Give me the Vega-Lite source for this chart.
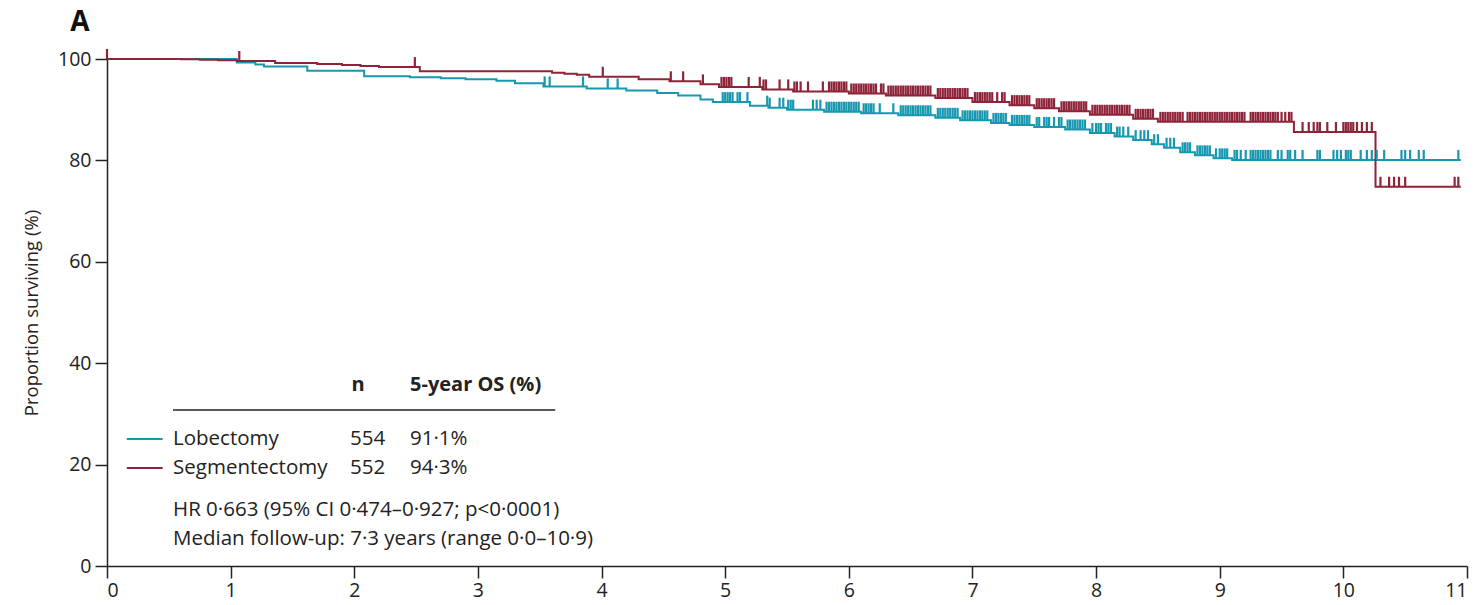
{
 "$schema": "https://vega.github.io/schema/vega-lite/v6.json",
 "width": 1360, "height": 507,
 "autosize": {"type": "none"},
 "padding": {"left": 107, "top": 59, "right": 17, "bottom": 39},
 "background": "white",
 "config": {
  "view": {"stroke": null},
  "axis": {"domainColor": "#222", "tickColor": "#222", "domainWidth": 1.5, "tickWidth": 1.5, "tickSize": 12, "labelFont": "Open Sans", "labelFontSize": 19.5, "labelColor": "#222", "grid": false, "titleFont": "Open Sans", "titleFontSize": 18.5, "titleFontWeight": "normal", "titleColor": "#222"}
 },
 "data": {"values": [
  {"g":"L","t":0,"s":100,"c":0},{"g":"L","t":1.05,"s":99.3,"c":0},{"g":"L","t":1.2,"s":98.9,"c":0},{"g":"L","t":1.27,"s":98.5,"c":0},{"g":"L","t":1.62,"s":97.7,"c":0},{"g":"L","t":2.08,"s":96.6,"c":0},{"g":"L","t":2.45,"s":96.4,"c":0},{"g":"L","t":2.7,"s":96.2,"c":0},{"g":"L","t":2.9,"s":96.0,"c":0},{"g":"L","t":3.15,"s":95.7,"c":0},{"g":"L","t":3.3,"s":95.2,"c":0},{"g":"L","t":3.53,"s":94.6,"c":0},{"g":"L","t":3.88,"s":94.2,"c":0},{"g":"L","t":4.2,"s":93.8,"c":0},{"g":"L","t":4.45,"s":93.3,"c":0},{"g":"L","t":4.62,"s":92.8,"c":0},{"g":"L","t":4.8,"s":92.0,"c":0},{"g":"L","t":4.9,"s":91.5,"c":0},{"g":"L","t":5.2,"s":90.8,"c":0},{"g":"L","t":5.35,"s":90.4,"c":0},{"g":"L","t":5.5,"s":90.0,"c":0},{"g":"L","t":5.8,"s":89.6,"c":0},{"g":"L","t":6.1,"s":89.3,"c":0},{"g":"L","t":6.4,"s":88.9,"c":0},{"g":"L","t":6.7,"s":88.4,"c":0},{"g":"L","t":6.9,"s":87.9,"c":0},{"g":"L","t":7.15,"s":87.4,"c":0},{"g":"L","t":7.3,"s":87.0,"c":0},{"g":"L","t":7.5,"s":86.6,"c":0},{"g":"L","t":7.75,"s":86.1,"c":0},{"g":"L","t":7.95,"s":85.4,"c":0},{"g":"L","t":8.15,"s":84.7,"c":0},{"g":"L","t":8.3,"s":84.0,"c":0},{"g":"L","t":8.45,"s":83.2,"c":0},{"g":"L","t":8.55,"s":82.5,"c":0},{"g":"L","t":8.68,"s":81.6,"c":0},{"g":"L","t":8.8,"s":81.0,"c":0},{"g":"L","t":8.95,"s":80.4,"c":0},{"g":"L","t":9.1,"s":80.1,"c":0},{"g":"L","t":10.95,"s":80.1,"c":0},
  {"g":"L","t":3.54,"s":94.6,"c":1},{"g":"L","t":3.58,"s":94.6,"c":1},{"g":"L","t":3.85,"s":94.6,"c":1},{"g":"L","t":4.05,"s":94.2,"c":1},{"g":"L","t":4.13,"s":94.2,"c":1},
  {"g":"L","t":4.98,"s":91.5,"c":1},{"g":"L","t":5.0,"s":91.5,"c":1},{"g":"L","t":5.02,"s":91.5,"c":1},{"g":"L","t":5.04,"s":91.5,"c":1},{"g":"L","t":5.06,"s":91.5,"c":1},{"g":"L","t":5.1,"s":91.5,"c":1},{"g":"L","t":5.12,"s":91.5,"c":1},{"g":"L","t":5.18,"s":91.5,"c":1},
  {"g":"L","t":5.34,"s":90.8,"c":1},{"g":"L","t":5.36,"s":90.4,"c":1},{"g":"L","t":5.44,"s":90.4,"c":1},{"g":"L","t":5.47,"s":90.4,"c":1},
  {"g":"L","t":5.51,"s":90.0,"c":1},{"g":"L","t":5.53,"s":90.0,"c":1},{"g":"L","t":5.55,"s":90.0,"c":1},{"g":"L","t":5.71,"s":90.0,"c":1},{"g":"L","t":5.74,"s":90.0,"c":1},{"g":"L","t":5.77,"s":90.0,"c":1},
  {"g":"L","t":5.82,"s":89.6,"c":1},{"g":"L","t":5.84,"s":89.6,"c":1},{"g":"L","t":5.86,"s":89.6,"c":1},{"g":"L","t":5.88,"s":89.6,"c":1},{"g":"L","t":5.9,"s":89.6,"c":1},{"g":"L","t":5.92,"s":89.6,"c":1},{"g":"L","t":5.94,"s":89.6,"c":1},{"g":"L","t":5.96,"s":89.6,"c":1},{"g":"L","t":5.98,"s":89.6,"c":1},{"g":"L","t":6.0,"s":89.6,"c":1},{"g":"L","t":6.02,"s":89.6,"c":1},{"g":"L","t":6.04,"s":89.6,"c":1},{"g":"L","t":6.06,"s":89.6,"c":1},{"g":"L","t":6.08,"s":89.6,"c":1},
  {"g":"L","t":6.12,"s":89.3,"c":1},{"g":"L","t":6.14,"s":89.3,"c":1},{"g":"L","t":6.16,"s":89.3,"c":1},{"g":"L","t":6.18,"s":89.3,"c":1},{"g":"L","t":6.2,"s":89.3,"c":1},{"g":"L","t":6.25,"s":89.3,"c":1},{"g":"L","t":6.36,"s":89.3,"c":1},
  {"g":"L","t":6.42,"s":88.9,"c":1},{"g":"L","t":6.44,"s":88.9,"c":1},{"g":"L","t":6.46,"s":88.9,"c":1},{"g":"L","t":6.48,"s":88.9,"c":1},{"g":"L","t":6.5,"s":88.9,"c":1},{"g":"L","t":6.52,"s":88.9,"c":1},{"g":"L","t":6.54,"s":88.9,"c":1},{"g":"L","t":6.56,"s":88.9,"c":1},{"g":"L","t":6.58,"s":88.9,"c":1},{"g":"L","t":6.6,"s":88.9,"c":1},{"g":"L","t":6.62,"s":88.9,"c":1},{"g":"L","t":6.64,"s":88.9,"c":1},{"g":"L","t":6.66,"s":88.9,"c":1},
  {"g":"L","t":6.72,"s":88.4,"c":1},{"g":"L","t":6.74,"s":88.4,"c":1},{"g":"L","t":6.76,"s":88.4,"c":1},{"g":"L","t":6.78,"s":88.4,"c":1},{"g":"L","t":6.8,"s":88.4,"c":1},{"g":"L","t":6.82,"s":88.4,"c":1},{"g":"L","t":6.84,"s":88.4,"c":1},{"g":"L","t":6.86,"s":88.4,"c":1},{"g":"L","t":6.88,"s":88.4,"c":1},
  {"g":"L","t":6.92,"s":87.9,"c":1},{"g":"L","t":6.94,"s":87.9,"c":1},{"g":"L","t":6.96,"s":87.9,"c":1},{"g":"L","t":6.98,"s":87.9,"c":1},{"g":"L","t":7.0,"s":87.9,"c":1},{"g":"L","t":7.02,"s":87.9,"c":1},{"g":"L","t":7.04,"s":87.9,"c":1},{"g":"L","t":7.06,"s":87.9,"c":1},{"g":"L","t":7.08,"s":87.9,"c":1},{"g":"L","t":7.1,"s":87.9,"c":1},{"g":"L","t":7.12,"s":87.9,"c":1},
  {"g":"L","t":7.17,"s":87.4,"c":1},{"g":"L","t":7.19,"s":87.4,"c":1},{"g":"L","t":7.21,"s":87.4,"c":1},{"g":"L","t":7.23,"s":87.4,"c":1},{"g":"L","t":7.25,"s":87.4,"c":1},{"g":"L","t":7.27,"s":87.4,"c":1},
  {"g":"L","t":7.32,"s":87.0,"c":1},{"g":"L","t":7.34,"s":87.0,"c":1},{"g":"L","t":7.36,"s":87.0,"c":1},{"g":"L","t":7.38,"s":87.0,"c":1},{"g":"L","t":7.4,"s":87.0,"c":1},{"g":"L","t":7.42,"s":87.0,"c":1},{"g":"L","t":7.44,"s":87.0,"c":1},{"g":"L","t":7.46,"s":87.0,"c":1},
  {"g":"L","t":7.52,"s":86.6,"c":1},{"g":"L","t":7.54,"s":86.6,"c":1},{"g":"L","t":7.58,"s":86.6,"c":1},{"g":"L","t":7.6,"s":86.6,"c":1},{"g":"L","t":7.62,"s":86.6,"c":1},{"g":"L","t":7.66,"s":86.6,"c":1},{"g":"L","t":7.7,"s":86.6,"c":1},{"g":"L","t":7.72,"s":86.6,"c":1},
  {"g":"L","t":7.77,"s":86.1,"c":1},{"g":"L","t":7.79,"s":86.1,"c":1},{"g":"L","t":7.81,"s":86.1,"c":1},{"g":"L","t":7.83,"s":86.1,"c":1},{"g":"L","t":7.85,"s":86.1,"c":1},{"g":"L","t":7.87,"s":86.1,"c":1},{"g":"L","t":7.89,"s":86.1,"c":1},{"g":"L","t":7.91,"s":86.1,"c":1},
  {"g":"L","t":7.97,"s":85.4,"c":1},{"g":"L","t":8.0,"s":85.4,"c":1},{"g":"L","t":8.02,"s":85.4,"c":1},{"g":"L","t":8.04,"s":85.4,"c":1},{"g":"L","t":8.08,"s":85.4,"c":1},{"g":"L","t":8.1,"s":85.4,"c":1},{"g":"L","t":8.12,"s":85.4,"c":1},
  {"g":"L","t":8.17,"s":84.7,"c":1},{"g":"L","t":8.19,"s":84.7,"c":1},{"g":"L","t":8.22,"s":84.7,"c":1},{"g":"L","t":8.26,"s":84.7,"c":1},
  {"g":"L","t":8.32,"s":84.0,"c":1},{"g":"L","t":8.36,"s":84.0,"c":1},{"g":"L","t":8.39,"s":84.0,"c":1},{"g":"L","t":8.42,"s":84.0,"c":1},
  {"g":"L","t":8.47,"s":83.2,"c":1},{"g":"L","t":8.5,"s":83.2,"c":1},
  {"g":"L","t":8.57,"s":82.5,"c":1},{"g":"L","t":8.6,"s":82.5,"c":1},{"g":"L","t":8.63,"s":82.5,"c":1},
  {"g":"L","t":8.7,"s":81.6,"c":1},{"g":"L","t":8.72,"s":81.6,"c":1},{"g":"L","t":8.74,"s":81.6,"c":1},{"g":"L","t":8.76,"s":81.6,"c":1},
  {"g":"L","t":8.82,"s":81.0,"c":1},{"g":"L","t":8.84,"s":81.0,"c":1},{"g":"L","t":8.86,"s":81.0,"c":1},{"g":"L","t":8.88,"s":81.0,"c":1},{"g":"L","t":8.9,"s":81.0,"c":1},{"g":"L","t":8.92,"s":81.0,"c":1},
  {"g":"L","t":8.97,"s":80.4,"c":1},{"g":"L","t":9.0,"s":80.4,"c":1},{"g":"L","t":9.02,"s":80.4,"c":1},{"g":"L","t":9.04,"s":80.4,"c":1},{"g":"L","t":9.06,"s":80.4,"c":1},
  {"g":"L","t":9.12,"s":80.1,"c":1},{"g":"L","t":9.14,"s":80.1,"c":1},{"g":"L","t":9.17,"s":80.1,"c":1},{"g":"L","t":9.21,"s":80.1,"c":1},{"g":"L","t":9.25,"s":80.1,"c":1},{"g":"L","t":9.27,"s":80.1,"c":1},{"g":"L","t":9.29,"s":80.1,"c":1},{"g":"L","t":9.31,"s":80.1,"c":1},{"g":"L","t":9.33,"s":80.1,"c":1},{"g":"L","t":9.35,"s":80.1,"c":1},{"g":"L","t":9.37,"s":80.1,"c":1},{"g":"L","t":9.39,"s":80.1,"c":1},{"g":"L","t":9.41,"s":80.1,"c":1},{"g":"L","t":9.47,"s":80.1,"c":1},{"g":"L","t":9.5,"s":80.1,"c":1},{"g":"L","t":9.55,"s":80.1,"c":1},{"g":"L","t":9.57,"s":80.1,"c":1},{"g":"L","t":9.61,"s":80.1,"c":1},{"g":"L","t":9.67,"s":80.1,"c":1},{"g":"L","t":9.79,"s":80.1,"c":1},{"g":"L","t":9.81,"s":80.1,"c":1},{"g":"L","t":9.92,"s":80.1,"c":1},{"g":"L","t":9.95,"s":80.1,"c":1},{"g":"L","t":9.98,"s":80.1,"c":1},{"g":"L","t":10.02,"s":80.1,"c":1},{"g":"L","t":10.04,"s":80.1,"c":1},{"g":"L","t":10.06,"s":80.1,"c":1},{"g":"L","t":10.14,"s":80.1,"c":1},{"g":"L","t":10.19,"s":80.1,"c":1},{"g":"L","t":10.23,"s":80.1,"c":1},{"g":"L","t":10.27,"s":80.1,"c":1},{"g":"L","t":10.33,"s":80.1,"c":1},{"g":"L","t":10.47,"s":80.1,"c":1},{"g":"L","t":10.5,"s":80.1,"c":1},{"g":"L","t":10.54,"s":80.1,"c":1},{"g":"L","t":10.61,"s":80.1,"c":1},{"g":"L","t":10.65,"s":80.1,"c":1},{"g":"L","t":10.93,"s":80.1,"c":1},

  {"g":"S","t":0,"s":100,"c":0},{"g":"S","t":0.6,"s":99.95,"c":0},{"g":"S","t":0.75,"s":99.85,"c":0},{"g":"S","t":0.9,"s":99.75,"c":0},{"g":"S","t":1.05,"s":99.6,"c":0},{"g":"S","t":1.36,"s":99.2,"c":0},{"g":"S","t":1.7,"s":99.0,"c":0},{"g":"S","t":1.9,"s":98.8,"c":0},{"g":"S","t":2.05,"s":98.6,"c":0},{"g":"S","t":2.2,"s":98.4,"c":0},{"g":"S","t":2.53,"s":97.6,"c":0},{"g":"S","t":3.6,"s":97.3,"c":0},{"g":"S","t":3.7,"s":97.1,"c":0},{"g":"S","t":3.8,"s":96.9,"c":0},{"g":"S","t":3.9,"s":96.5,"c":0},{"g":"S","t":4.3,"s":96.0,"c":0},{"g":"S","t":4.55,"s":95.6,"c":0},{"g":"S","t":4.8,"s":95.0,"c":0},{"g":"S","t":4.95,"s":94.5,"c":0},{"g":"S","t":5.3,"s":94.0,"c":0},{"g":"S","t":5.55,"s":93.6,"c":0},{"g":"S","t":6.0,"s":93.2,"c":0},{"g":"S","t":6.3,"s":92.8,"c":0},{"g":"S","t":6.7,"s":92.3,"c":0},{"g":"S","t":7.0,"s":91.5,"c":0},{"g":"S","t":7.3,"s":90.9,"c":0},{"g":"S","t":7.5,"s":90.3,"c":0},{"g":"S","t":7.7,"s":89.7,"c":0},{"g":"S","t":7.95,"s":89.0,"c":0},{"g":"S","t":8.3,"s":88.2,"c":0},{"g":"S","t":8.5,"s":87.6,"c":0},{"g":"S","t":9.6,"s":85.6,"c":0},{"g":"S","t":10.26,"s":74.8,"c":0},{"g":"S","t":10.95,"s":74.8,"c":0},
  {"g":"S","t":0.0,"s":100,"c":1},{"g":"S","t":1.07,"s":99.6,"c":1},{"g":"S","t":2.49,"s":98.4,"c":1},{"g":"S","t":4.01,"s":96.5,"c":1},{"g":"S","t":4.56,"s":95.6,"c":1},{"g":"S","t":4.66,"s":95.6,"c":1},{"g":"S","t":4.82,"s":95.0,"c":1},
  {"g":"S","t":4.97,"s":94.5,"c":1},{"g":"S","t":4.99,"s":94.5,"c":1},{"g":"S","t":5.01,"s":94.5,"c":1},{"g":"S","t":5.03,"s":94.5,"c":1},{"g":"S","t":5.05,"s":94.5,"c":1},{"g":"S","t":5.19,"s":94.5,"c":1},{"g":"S","t":5.28,"s":94.5,"c":1},
  {"g":"S","t":5.31,"s":94.0,"c":1},{"g":"S","t":5.33,"s":94.0,"c":1},{"g":"S","t":5.44,"s":94.0,"c":1},{"g":"S","t":5.51,"s":94.0,"c":1},
  {"g":"S","t":5.56,"s":93.6,"c":1},{"g":"S","t":5.58,"s":93.6,"c":1},{"g":"S","t":5.61,"s":93.6,"c":1},{"g":"S","t":5.67,"s":93.6,"c":1},{"g":"S","t":5.79,"s":93.6,"c":1},{"g":"S","t":5.84,"s":93.6,"c":1},{"g":"S","t":5.86,"s":93.6,"c":1},{"g":"S","t":5.88,"s":93.6,"c":1},{"g":"S","t":5.9,"s":93.6,"c":1},{"g":"S","t":5.92,"s":93.6,"c":1},{"g":"S","t":5.94,"s":93.6,"c":1},{"g":"S","t":5.96,"s":93.6,"c":1},{"g":"S","t":5.98,"s":93.6,"c":1},
  {"g":"S","t":6.02,"s":93.2,"c":1},{"g":"S","t":6.04,"s":93.2,"c":1},{"g":"S","t":6.06,"s":93.2,"c":1},{"g":"S","t":6.08,"s":93.2,"c":1},{"g":"S","t":6.1,"s":93.2,"c":1},{"g":"S","t":6.12,"s":93.2,"c":1},{"g":"S","t":6.14,"s":93.2,"c":1},{"g":"S","t":6.16,"s":93.2,"c":1},{"g":"S","t":6.18,"s":93.2,"c":1},{"g":"S","t":6.2,"s":93.2,"c":1},{"g":"S","t":6.22,"s":93.2,"c":1},{"g":"S","t":6.26,"s":93.2,"c":1},{"g":"S","t":6.28,"s":93.2,"c":1},
  {"g":"S","t":6.32,"s":92.8,"c":1},{"g":"S","t":6.34,"s":92.8,"c":1},{"g":"S","t":6.36,"s":92.8,"c":1},{"g":"S","t":6.38,"s":92.8,"c":1},{"g":"S","t":6.4,"s":92.8,"c":1},{"g":"S","t":6.42,"s":92.8,"c":1},{"g":"S","t":6.44,"s":92.8,"c":1},{"g":"S","t":6.46,"s":92.8,"c":1},{"g":"S","t":6.48,"s":92.8,"c":1},{"g":"S","t":6.5,"s":92.8,"c":1},{"g":"S","t":6.52,"s":92.8,"c":1},{"g":"S","t":6.54,"s":92.8,"c":1},{"g":"S","t":6.56,"s":92.8,"c":1},{"g":"S","t":6.58,"s":92.8,"c":1},{"g":"S","t":6.6,"s":92.8,"c":1},{"g":"S","t":6.62,"s":92.8,"c":1},{"g":"S","t":6.64,"s":92.8,"c":1},{"g":"S","t":6.66,"s":92.8,"c":1},
  {"g":"S","t":6.72,"s":92.3,"c":1},{"g":"S","t":6.74,"s":92.3,"c":1},{"g":"S","t":6.76,"s":92.3,"c":1},{"g":"S","t":6.78,"s":92.3,"c":1},{"g":"S","t":6.8,"s":92.3,"c":1},{"g":"S","t":6.82,"s":92.3,"c":1},{"g":"S","t":6.84,"s":92.3,"c":1},{"g":"S","t":6.86,"s":92.3,"c":1},{"g":"S","t":6.88,"s":92.3,"c":1},{"g":"S","t":6.9,"s":92.3,"c":1},{"g":"S","t":6.92,"s":92.3,"c":1},{"g":"S","t":6.94,"s":92.3,"c":1},{"g":"S","t":6.96,"s":92.3,"c":1},
  {"g":"S","t":7.02,"s":91.5,"c":1},{"g":"S","t":7.04,"s":91.5,"c":1},{"g":"S","t":7.06,"s":91.5,"c":1},{"g":"S","t":7.08,"s":91.5,"c":1},{"g":"S","t":7.1,"s":91.5,"c":1},{"g":"S","t":7.12,"s":91.5,"c":1},{"g":"S","t":7.14,"s":91.5,"c":1},{"g":"S","t":7.16,"s":91.5,"c":1},{"g":"S","t":7.2,"s":91.5,"c":1},{"g":"S","t":7.24,"s":91.5,"c":1},{"g":"S","t":7.26,"s":91.5,"c":1},
  {"g":"S","t":7.32,"s":90.9,"c":1},{"g":"S","t":7.34,"s":90.9,"c":1},{"g":"S","t":7.36,"s":90.9,"c":1},{"g":"S","t":7.38,"s":90.9,"c":1},{"g":"S","t":7.4,"s":90.9,"c":1},{"g":"S","t":7.42,"s":90.9,"c":1},{"g":"S","t":7.44,"s":90.9,"c":1},{"g":"S","t":7.46,"s":90.9,"c":1},
  {"g":"S","t":7.52,"s":90.3,"c":1},{"g":"S","t":7.54,"s":90.3,"c":1},{"g":"S","t":7.56,"s":90.3,"c":1},{"g":"S","t":7.58,"s":90.3,"c":1},{"g":"S","t":7.6,"s":90.3,"c":1},{"g":"S","t":7.62,"s":90.3,"c":1},{"g":"S","t":7.64,"s":90.3,"c":1},{"g":"S","t":7.66,"s":90.3,"c":1},
  {"g":"S","t":7.72,"s":89.7,"c":1},{"g":"S","t":7.74,"s":89.7,"c":1},{"g":"S","t":7.76,"s":89.7,"c":1},{"g":"S","t":7.78,"s":89.7,"c":1},{"g":"S","t":7.8,"s":89.7,"c":1},{"g":"S","t":7.82,"s":89.7,"c":1},{"g":"S","t":7.84,"s":89.7,"c":1},{"g":"S","t":7.86,"s":89.7,"c":1},{"g":"S","t":7.88,"s":89.7,"c":1},{"g":"S","t":7.9,"s":89.7,"c":1},{"g":"S","t":7.92,"s":89.7,"c":1},
  {"g":"S","t":7.97,"s":89.0,"c":1},{"g":"S","t":7.99,"s":89.0,"c":1},{"g":"S","t":8.01,"s":89.0,"c":1},{"g":"S","t":8.03,"s":89.0,"c":1},{"g":"S","t":8.05,"s":89.0,"c":1},{"g":"S","t":8.07,"s":89.0,"c":1},{"g":"S","t":8.09,"s":89.0,"c":1},{"g":"S","t":8.11,"s":89.0,"c":1},{"g":"S","t":8.13,"s":89.0,"c":1},{"g":"S","t":8.15,"s":89.0,"c":1},{"g":"S","t":8.17,"s":89.0,"c":1},{"g":"S","t":8.19,"s":89.0,"c":1},{"g":"S","t":8.21,"s":89.0,"c":1},{"g":"S","t":8.23,"s":89.0,"c":1},{"g":"S","t":8.25,"s":89.0,"c":1},{"g":"S","t":8.27,"s":89.0,"c":1},
  {"g":"S","t":8.32,"s":88.2,"c":1},{"g":"S","t":8.34,"s":88.2,"c":1},{"g":"S","t":8.36,"s":88.2,"c":1},{"g":"S","t":8.38,"s":88.2,"c":1},{"g":"S","t":8.4,"s":88.2,"c":1},{"g":"S","t":8.42,"s":88.2,"c":1},{"g":"S","t":8.44,"s":88.2,"c":1},{"g":"S","t":8.46,"s":88.2,"c":1},
  {"g":"S","t":8.52,"s":87.6,"c":1},{"g":"S","t":8.54,"s":87.6,"c":1},{"g":"S","t":8.56,"s":87.6,"c":1},{"g":"S","t":8.58,"s":87.6,"c":1},{"g":"S","t":8.6,"s":87.6,"c":1},{"g":"S","t":8.62,"s":87.6,"c":1},{"g":"S","t":8.64,"s":87.6,"c":1},{"g":"S","t":8.66,"s":87.6,"c":1},{"g":"S","t":8.68,"s":87.6,"c":1},{"g":"S","t":8.7,"s":87.6,"c":1},{"g":"S","t":8.74,"s":87.6,"c":1},{"g":"S","t":8.76,"s":87.6,"c":1},{"g":"S","t":8.78,"s":87.6,"c":1},{"g":"S","t":8.8,"s":87.6,"c":1},{"g":"S","t":8.82,"s":87.6,"c":1},{"g":"S","t":8.84,"s":87.6,"c":1},{"g":"S","t":8.86,"s":87.6,"c":1},{"g":"S","t":8.88,"s":87.6,"c":1},{"g":"S","t":8.9,"s":87.6,"c":1},{"g":"S","t":8.92,"s":87.6,"c":1},{"g":"S","t":8.94,"s":87.6,"c":1},{"g":"S","t":8.96,"s":87.6,"c":1},{"g":"S","t":8.98,"s":87.6,"c":1},{"g":"S","t":9.0,"s":87.6,"c":1},{"g":"S","t":9.02,"s":87.6,"c":1},{"g":"S","t":9.04,"s":87.6,"c":1},{"g":"S","t":9.06,"s":87.6,"c":1},{"g":"S","t":9.08,"s":87.6,"c":1},{"g":"S","t":9.1,"s":87.6,"c":1},{"g":"S","t":9.12,"s":87.6,"c":1},{"g":"S","t":9.14,"s":87.6,"c":1},{"g":"S","t":9.16,"s":87.6,"c":1},{"g":"S","t":9.18,"s":87.6,"c":1},{"g":"S","t":9.2,"s":87.6,"c":1},{"g":"S","t":9.25,"s":87.6,"c":1},{"g":"S","t":9.27,"s":87.6,"c":1},{"g":"S","t":9.29,"s":87.6,"c":1},{"g":"S","t":9.31,"s":87.6,"c":1},{"g":"S","t":9.33,"s":87.6,"c":1},{"g":"S","t":9.35,"s":87.6,"c":1},{"g":"S","t":9.37,"s":87.6,"c":1},{"g":"S","t":9.39,"s":87.6,"c":1},{"g":"S","t":9.41,"s":87.6,"c":1},{"g":"S","t":9.43,"s":87.6,"c":1},{"g":"S","t":9.45,"s":87.6,"c":1},{"g":"S","t":9.47,"s":87.6,"c":1},{"g":"S","t":9.5,"s":87.6,"c":1},{"g":"S","t":9.53,"s":87.6,"c":1},{"g":"S","t":9.56,"s":87.6,"c":1},{"g":"S","t":9.58,"s":87.6,"c":1},
  {"g":"S","t":9.67,"s":85.6,"c":1},{"g":"S","t":9.72,"s":85.6,"c":1},{"g":"S","t":9.76,"s":85.6,"c":1},{"g":"S","t":9.79,"s":85.6,"c":1},{"g":"S","t":9.81,"s":85.6,"c":1},{"g":"S","t":9.87,"s":85.6,"c":1},{"g":"S","t":9.94,"s":85.6,"c":1},{"g":"S","t":10.0,"s":85.6,"c":1},{"g":"S","t":10.02,"s":85.6,"c":1},{"g":"S","t":10.04,"s":85.6,"c":1},{"g":"S","t":10.06,"s":85.6,"c":1},{"g":"S","t":10.08,"s":85.6,"c":1},{"g":"S","t":10.11,"s":85.6,"c":1},{"g":"S","t":10.15,"s":85.6,"c":1},{"g":"S","t":10.19,"s":85.6,"c":1},{"g":"S","t":10.23,"s":85.6,"c":1},
  {"g":"S","t":10.3,"s":74.8,"c":1},{"g":"S","t":10.37,"s":74.8,"c":1},{"g":"S","t":10.41,"s":74.8,"c":1},{"g":"S","t":10.45,"s":74.8,"c":1},{"g":"S","t":10.5,"s":74.8,"c":1},{"g":"S","t":10.9,"s":74.8,"c":1},{"g":"S","t":10.93,"s":74.8,"c":1}
 ]},
 "layer": [
  {
   "transform": [{"filter": "datum.c == 0"}],
   "mark": {"type": "line", "interpolate": "step-after", "strokeWidth": 2, "clip": false},
   "encoding": {
    "x": {"field": "t", "type": "quantitative", "scale": {"domain": [0, 11], "nice": false}, "axis": {"values": [0,1,2,3,4,5,6,7,8,9,10,11], "format": "d", "title": null, "labelPadding": 3}},
    "y": {"field": "s", "type": "quantitative", "scale": {"domain": [0, 100], "nice": false}, "axis": {"values": [0,20,40,60,80,100], "format": "d", "title": "Proportion surviving (%)", "labelPadding": 4, "titlePadding": 16}},
    "color": {"field": "g", "type": "nominal", "scale": {"domain": ["L","S"], "range": ["#1798b0", "#8e2339"]}, "legend": null}
   }
  },
  {
   "transform": [{"filter": "datum.c == 1"}],
   "mark": {"type": "tick", "orient": "vertical", "size": 10, "thickness": 2.2, "yOffset": -5, "opacity": 1, "clip": false},
   "encoding": {
    "x": {"field": "t", "type": "quantitative"},
    "y": {"field": "s", "type": "quantitative"},
    "color": {"field": "g", "type": "nominal", "legend": null}
   }
  },
  {"data": {"values": [{}]}, "mark": {"type": "text", "text": "A", "font": "Open Sans", "fontSize": 28, "fontWeight": "bold", "align": "center", "baseline": "middle", "color": "#111", "clip": false}, "encoding": {"x": {"datum": -0.22}, "y": {"datum": 107.1}}},
  {"data": {"values": [{}]}, "mark": {"type": "rule", "color": "#1798b0", "strokeWidth": 2}, "encoding": {"x": {"datum": 0.16}, "x2": {"datum": 0.45}, "y": {"datum": 25.05}}},
  {"data": {"values": [{}]}, "mark": {"type": "rule", "color": "#8e2339", "strokeWidth": 2}, "encoding": {"x": {"datum": 0.16}, "x2": {"datum": 0.45}, "y": {"datum": 19.33}}},
  {"data": {"values": [{}]}, "mark": {"type": "rule", "color": "#222", "strokeWidth": 1.5}, "encoding": {"x": {"datum": 0.534}, "x2": {"datum": 3.625}, "y": {"datum": 30.77}}},
  {"data": {"values": [{}]}, "mark": {"type": "text", "text": "n", "font": "Open Sans", "fontSize": 20, "fontWeight": "bold", "align": "center", "baseline": "middle", "color": "#222"}, "encoding": {"x": {"datum": 2.03}, "y": {"datum": 35.7}}},
  {"data": {"values": [{}]}, "mark": {"type": "text", "text": "5-year OS (%)", "font": "Open Sans", "fontSize": 20, "fontWeight": "bold", "align": "left", "baseline": "middle", "color": "#222"}, "encoding": {"x": {"datum": 2.451}, "y": {"datum": 35.7}}},
  {"data": {"values": [{}]}, "mark": {"type": "text", "text": "Lobectomy", "font": "Open Sans", "fontSize": 20.5, "align": "left", "baseline": "middle", "color": "#222"}, "encoding": {"x": {"datum": 0.534}, "y": {"datum": 25.05}}},
  {"data": {"values": [{}]}, "mark": {"type": "text", "text": "554", "font": "Open Sans", "fontSize": 20.5, "align": "left", "baseline": "middle", "color": "#222"}, "encoding": {"x": {"datum": 1.966}, "y": {"datum": 25.05}}},
  {"data": {"values": [{}]}, "mark": {"type": "text", "text": "91·1%", "font": "Open Sans", "fontSize": 20.5, "align": "left", "baseline": "middle", "color": "#222"}, "encoding": {"x": {"datum": 2.451}, "y": {"datum": 25.05}}},
  {"data": {"values": [{}]}, "mark": {"type": "text", "text": "Segmentectomy", "font": "Open Sans", "fontSize": 20.5, "align": "left", "baseline": "middle", "color": "#222"}, "encoding": {"x": {"datum": 0.534}, "y": {"datum": 19.33}}},
  {"data": {"values": [{}]}, "mark": {"type": "text", "text": "552", "font": "Open Sans", "fontSize": 20.5, "align": "left", "baseline": "middle", "color": "#222"}, "encoding": {"x": {"datum": 1.966}, "y": {"datum": 19.33}}},
  {"data": {"values": [{}]}, "mark": {"type": "text", "text": "94·3%", "font": "Open Sans", "fontSize": 20.5, "align": "left", "baseline": "middle", "color": "#222"}, "encoding": {"x": {"datum": 2.451}, "y": {"datum": 19.33}}},
  {"data": {"values": [{}]}, "mark": {"type": "text", "text": "HR 0·663 (95% CI 0·474–0·927; p<0·0001)", "font": "Open Sans", "fontSize": 20.5, "align": "left", "baseline": "middle", "color": "#222"}, "encoding": {"x": {"datum": 0.534}, "y": {"datum": 11.05}}},
  {"data": {"values": [{}]}, "mark": {"type": "text", "text": "Median follow-up: 7·3 years (range 0·0–10·9)", "font": "Open Sans", "fontSize": 20.5, "align": "left", "baseline": "middle", "color": "#222"}, "encoding": {"x": {"datum": 0.534}, "y": {"datum": 5.33}}}
 ]
}
